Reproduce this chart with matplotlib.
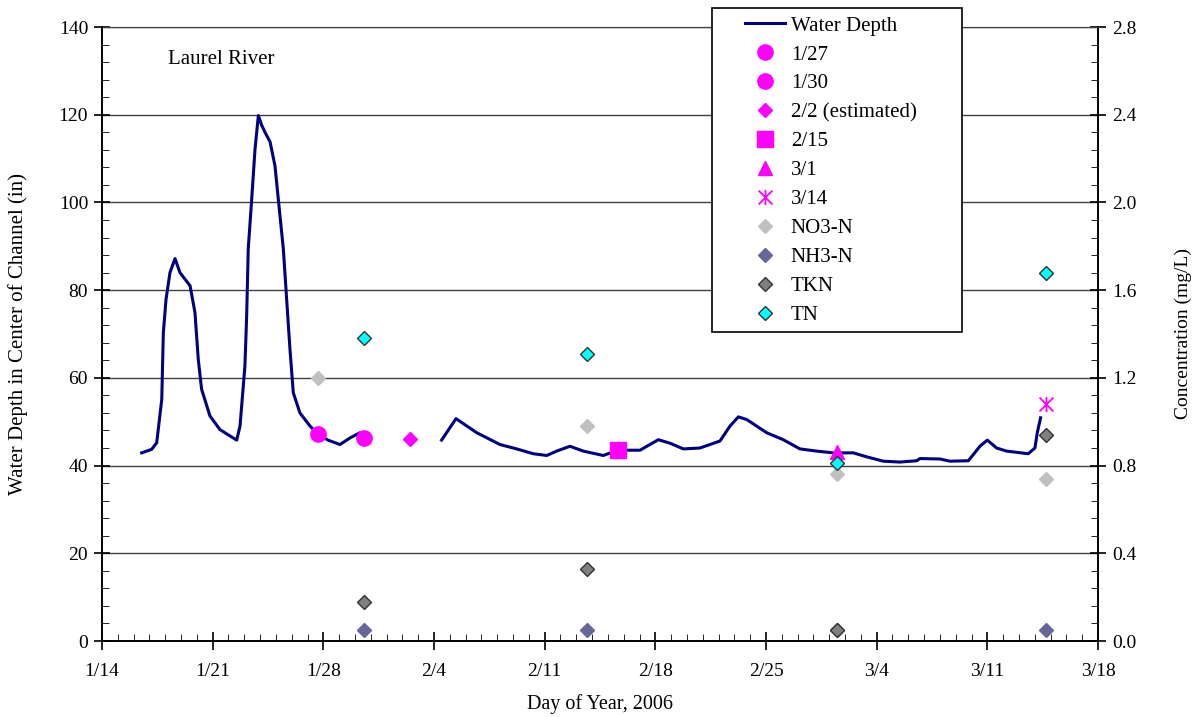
from datetime import datetime

import numpy as np
import matplotlib
matplotlib.use('Agg')
import matplotlib.pyplot as plt
import matplotlib.dates as mdates
from matplotlib.path import Path
from matplotlib.patches import Rectangle
from matplotlib.ticker import MultipleLocator, FormatStrFormatter

plt.rcParams['font.family'] = ['Liberation Serif', 'DejaVu Serif']

# days after 1/14/2006 00:00
depth_days = [2.51, 3.14, 3.46, 3.78, 3.88, 4.05, 4.30, 4.62, 4.93, 5.57, 5.88, 6.09,
              6.30, 6.83, 7.46, 8.52, 8.73, 9.04, 9.15, 9.25, 9.47, 9.68, 9.89, 10.10,
              10.31, 10.63, 10.94, 11.15, 11.47, 11.68, 11.89, 12.10, 12.52, 13.16, 13.68,
              14.30, 15.05, 15.69, 16.32, 16.59, np.nan, 21.48, 22.39, 23.70, 25.17, 26.23,
              27.28, 28.13, 28.76, 29.60, 30.44, 31.71, 32.62, 34.03, 35.19, 35.93, 36.77,
              37.82, 39.09, 39.72, 40.25, 40.78, 42.04, 43.09, 44.15, 45.20, 46.25, 47.52,
              48.36, 49.42, 50.47, 51.53, 51.74, 53.00, 53.64, 54.80, 55.53, 56.00, 56.59,
              57.22, 58.59, 59.01, 59.16, 59.37]
depth_in = [42.9, 43.7, 45.2, 55.1, 70.3, 77.9, 84.0, 87.2, 84.0, 81.0, 74.9, 64.2,
            57.4, 51.3, 48.2, 45.8, 49.0, 62.7, 74.1, 89.4, 100.8, 112.2, 119.8, 117.6,
            116.0, 113.8, 108.4, 100.8, 89.4, 77.9, 66.5, 56.6, 52.0, 49.0, 47.1,
            45.8, 44.8, 46.3, 47.5, 46.3, np.nan, 45.8, 50.7, 47.5, 44.8, 43.8,
            42.7, 42.3, 43.3, 44.4, 43.3, 42.3, 43.5, 43.5, 45.9, 45.1, 43.8,
            44.0, 45.6, 49.0, 51.1, 50.5, 47.5, 45.9, 43.8, 43.3, 42.9, 42.9,
            42.0, 41.0, 40.8, 41.1, 41.6, 41.5, 41.0, 41.1, 44.4, 45.8, 44.0,
            43.3, 42.7, 44.0, 47.5, 50.9]

sample_names = ['1/27', '1/30', '2/2 (estimated)', '2/15', '3/1', '3/14']
sample_days = [13.68, 16.59, 19.48, 32.62, 46.50, 59.70]
sample_depth = [47.1, 46.3, 46.0, 43.5, 43.0, 54.0]

conc_days = [13.68, 16.59, 30.68, 46.50, 59.70]
no3 = [1.20, np.nan, 0.98, 0.76, 0.74]
nh3 = [np.nan, 0.05, 0.05, 0.05, 0.05]
tkn = [np.nan, 0.18, 0.33, 0.05, 0.94]
tn = [np.nan, 1.38, 1.31, 0.81, 1.68]

x_labels = ['1/14', '1/21', '1/28', '2/4', '2/11', '2/18', '2/25', '3/4', '3/11', '3/18']

t0 = mdates.date2num(datetime(2006, 1, 14))

W, H = 1201, 717
fig = plt.figure(figsize=(W / 100, H / 100), dpi=100)
ax = fig.add_axes([102 / W, 1 - 641 / H, 996 / W, 614 / H])
ax2 = ax.twinx()

ax.plot(t0 + np.array(depth_days), depth_in, color='#000080', lw=2.2,
        label='Water Depth', zorder=3)

star = Path([(-1, -1), (1, 1), (-1, 1), (1, -1), (0, -1.1), (0, 1.1)],
            [Path.MOVETO, Path.LINETO, Path.MOVETO, Path.LINETO, Path.MOVETO, Path.LINETO])
mk = ['o', 'o', 'D', 's', '^', star]
ms = [11, 11, 7, 11, 9.5, 11]
for name, d, v, m, s in zip(sample_names, sample_days, sample_depth, mk, ms):
    if m is star:
        ax.plot(t0 + d, v, ls='none', marker=m, ms=s, mec='#FF00FF', mfc='none',
                mew=1.3, label=name, zorder=4)
    else:
        ax.plot(t0 + d, v, ls='none', marker=m, ms=s, color='#FF00FF', mec='#FF00FF',
                label=name, zorder=4)

xc = t0 + np.array(conc_days)
ax2.plot(xc, no3, ls='none', marker='D', ms=7, color='#C0C0C0', mec='#C0C0C0', label='NO3-N')
ax2.plot(xc, nh3, ls='none', marker='D', ms=7, color='#666699', mec='#666699', label='NH3-N')
ax2.plot(xc, tkn, ls='none', marker='D', ms=7, color='#808080', mec='#333333', mew=1,
         label='TKN')
ax2.plot(xc, tn, ls='none', marker='D', ms=7, color='#00FFFF', mec='#333333', mew=1,
         label='TN')

ax.set_xlim(t0, t0 + 63)
ax.set_ylim(0, 140)
ax2.set_ylim(0, 2.8)

ax.set_xticks(t0 + 7 * np.arange(len(x_labels)), x_labels)
ax.xaxis.set_minor_locator(MultipleLocator(1))
ax.yaxis.set_major_locator(MultipleLocator(20))
ax.yaxis.set_minor_locator(MultipleLocator(4))
ax2.yaxis.set_major_locator(MultipleLocator(0.4))
ax2.yaxis.set_minor_locator(MultipleLocator(0.08))
ax2.yaxis.set_major_formatter(FormatStrFormatter('%.1f'))

ax.grid(axis='y', color='#404040', lw=1)
ax.set_axisbelow(True)
for a in (ax, ax2):
    a.spines['top'].set_color('#404040')
    a.spines['left'].set_linewidth(1.2)
    a.spines['right'].set_linewidth(1.2)
    a.spines['bottom'].set_linewidth(1.2)

ax.tick_params(axis='x', which='major', direction='inout', length=13, width=1.2, pad=9,
               labelsize=14)
ax.tick_params(axis='x', which='minor', direction='in', length=5)
ax.tick_params(axis='y', which='major', direction='inout', length=12, width=1.2, pad=4,
               labelsize=14)
ax.tick_params(axis='y', which='minor', direction='in', length=5)
ax2.tick_params(axis='y', which='major', direction='inout', length=12, width=1.2, pad=4,
                labelsize=14)
ax2.tick_params(axis='y', which='minor', direction='in', length=5)

ax.set_xlabel('Day of Year, 2006', fontsize=14.5)
ax.xaxis.set_label_coords(0.5, -0.086)
ax.set_ylabel('Water Depth in Center of Channel (in)', fontsize=15)
ax.yaxis.set_label_coords(-0.074, 0.5)
ax2.set_ylabel('Concentration (mg/L)', fontsize=14)
ax2.yaxis.set_label_coords(1.077, 0.5)

fig.text(168 / W, 1 - 60 / H, 'Laurel River', fontsize=15, va='center')

# legend box
fig.add_artist(Rectangle((712 / W, 1 - 332 / H), 250 / W, 324 / H, transform=fig.transFigure,
                         facecolor='white', edgecolor='black', lw=1.2, zorder=4))
h1, l1 = ax.get_legend_handles_labels()
h2, l2 = ax2.get_legend_handles_labels()
fig.legend(h1 + h2, l1 + l2, loc='upper left', bbox_to_anchor=(745 / W, 1 - 16 / H),
           frameon=False, fontsize=15, handlelength=1.9, handletextpad=0.3,
           labelspacing=0.45, borderpad=0, borderaxespad=0, numpoints=1)

fig.savefig('out.png', dpi=100)
